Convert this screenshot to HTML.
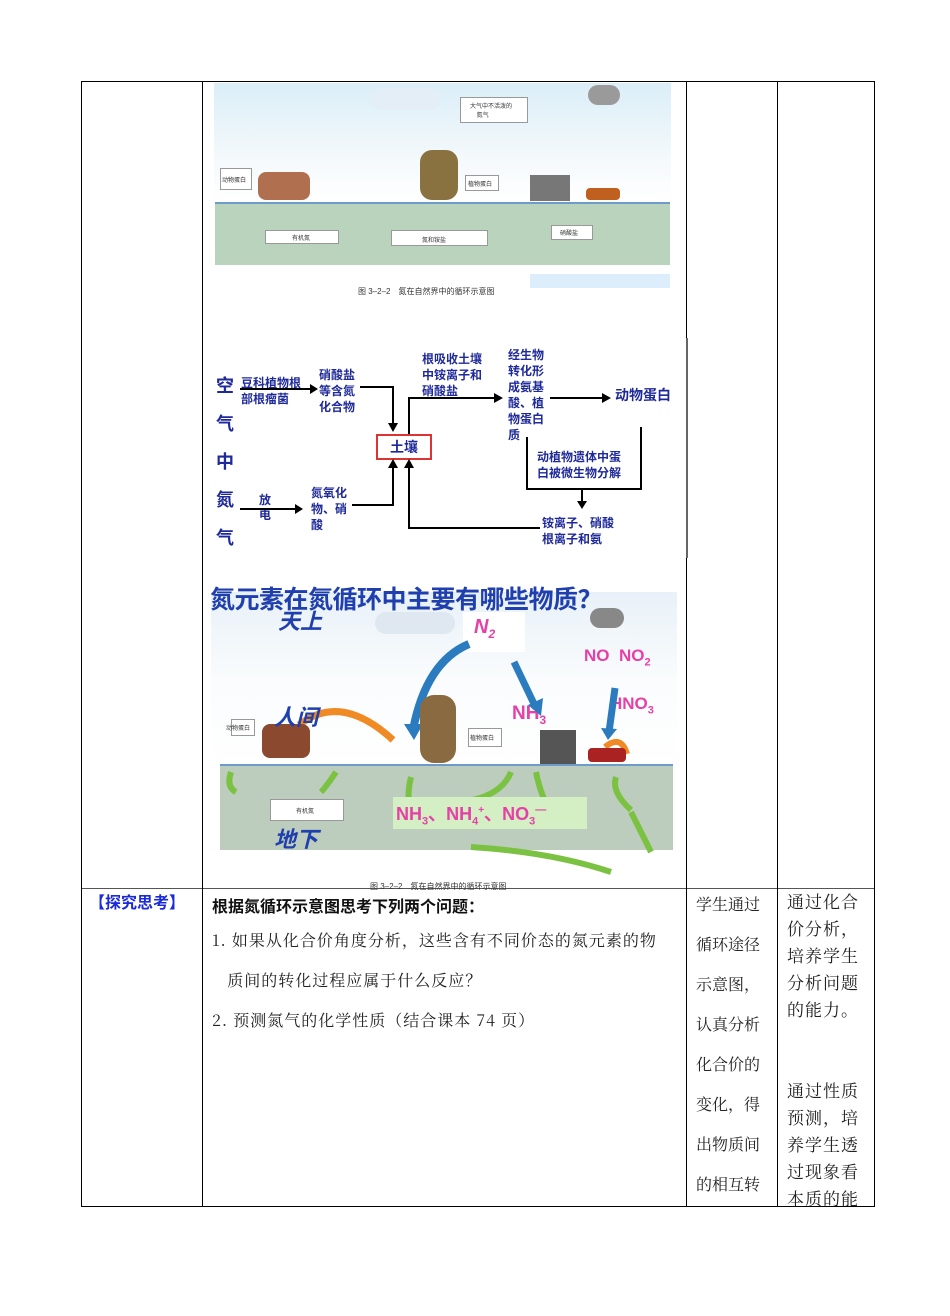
<!DOCTYPE html>
<html><head><meta charset="utf-8">
<style>
body{margin:0;background:#fff;width:950px;height:1316px;position:relative;overflow:hidden;font-family:"Liberation Serif","Noto Serif CJK SC",serif}
.a{position:absolute}
.ln{position:absolute;background:#000}
.b{color:#1f2a9a;font-family:"Liberation Sans","Noto Sans CJK SC",sans-serif;font-weight:bold;font-size:12px;line-height:16px}
.s{font-family:"Liberation Sans","Noto Sans CJK SC",sans-serif;font-size:6px;color:#333;position:absolute}
.bx{position:absolute;background:#fff;border:1px solid #999}
.t{font-size:16px;line-height:40px;color:#222;font-family:"Noto Serif CJK SC",serif}
.pk{color:#e63fa8;font-family:"Liberation Sans",sans-serif;font-weight:bold;position:absolute}
</style></head><body>
<!-- table borders -->
<div class="ln" style="left:81px;top:81px;width:794px;height:1px"></div>
<div class="ln" style="left:81px;top:888px;width:794px;height:1px;background:#555"></div>
<div class="ln" style="left:81px;top:1206px;width:794px;height:1px"></div>
<div class="ln" style="left:81px;top:81px;width:1px;height:1126px"></div>
<div class="ln" style="left:202px;top:81px;width:1px;height:1126px"></div>
<div class="ln" style="left:686px;top:81px;width:1px;height:1126px"></div>
<div class="ln" style="left:777px;top:81px;width:1px;height:1126px"></div>
<div class="ln" style="left:874px;top:81px;width:1px;height:1126px"></div>

<!-- top image -->
<div class="a" style="left:214px;top:83px;width:457px;height:215px;background:linear-gradient(#dbeef8,#f4f9fb 35%,#fff 55%)"></div>
<div class="a" style="left:215px;top:203px;width:455px;height:62px;background:#b9d3bd"></div>
<div class="a" style="left:215px;top:202px;width:455px;height:2px;background:#6d9ccb"></div>
<div class="a" style="left:370px;top:88px;width:70px;height:22px;background:#e3eef6;border-radius:12px"></div>
<div class="a" style="left:588px;top:85px;width:32px;height:20px;background:#9a9a9a;border-radius:10px"></div>
<div class="bx" style="left:460px;top:97px;width:66px;height:24px"></div><div class="s" style="left:470px;top:101px">大气中不活泼的<br>&nbsp;&nbsp;&nbsp;&nbsp;氮气</div>
<div class="bx" style="left:220px;top:168px;width:30px;height:20px"></div><div class="s" style="left:222px;top:175px">动物蛋白</div>
<div class="a" style="left:258px;top:172px;width:52px;height:28px;background:#b07050;border-radius:8px"></div>
<div class="a" style="left:420px;top:150px;width:38px;height:50px;background:#8a7240;border-radius:12px"></div>
<div class="bx" style="left:465px;top:175px;width:32px;height:14px"></div><div class="s" style="left:468px;top:179px">植物蛋白</div>
<div class="a" style="left:530px;top:175px;width:40px;height:26px;background:#777"></div>
<div class="a" style="left:586px;top:188px;width:34px;height:12px;background:#c0601e;border-radius:4px"></div>
<div class="bx" style="left:265px;top:230px;width:72px;height:12px"></div><div class="s" style="left:292px;top:233px">有机氮</div>
<div class="bx" style="left:391px;top:230px;width:95px;height:14px"></div><div class="s" style="left:422px;top:235px">氮和铵盐</div>
<div class="bx" style="left:551px;top:225px;width:40px;height:13px"></div><div class="s" style="left:560px;top:228px">硝酸盐</div>
<div class="a" style="left:530px;top:274px;width:140px;height:14px;background:#dceefc"></div>
<div class="s" style="left:358px;top:286px;font-size:8px">图 3–2–2　氮在自然界中的循环示意图</div>

<!-- flow diagram -->
<div class="a" style="left:206px;top:338px;width:480px;height:220px;border-right:2px solid #666"></div>
<div class="a b" style="left:216px;top:367px;font-size:18px;line-height:38px;width:20px">空<br>气<br>中<br>氮<br>气</div>
<div class="a b" style="left:241px;top:375px">豆科植物根<br>部根瘤菌</div>
<div class="ln" style="left:240px;top:388px;width:72px;height:2px"></div><div class="a" style="left:310px;top:384px;border-left:8px solid #000;border-top:5px solid transparent;border-bottom:5px solid transparent"></div>
<div class="a b" style="left:319px;top:367px">硝酸盐<br>等含氮<br>化合物</div>
<div class="ln" style="left:360px;top:386px;width:33px;height:2px"></div>
<div class="ln" style="left:392px;top:386px;width:2px;height:38px"></div><div class="a" style="left:388px;top:423px;border-top:9px solid #000;border-left:5px solid transparent;border-right:5px solid transparent"></div>
<div class="a b" style="left:376px;top:434px;width:56px;height:26px;border:2px solid #d33;box-sizing:border-box;font-size:14px;line-height:22px;text-align:center">土壤</div>
<div class="a b" style="left:259px;top:493px;line-height:15px">放<br>电</div>
<div class="ln" style="left:240px;top:508px;width:56px;height:2px"></div><div class="a" style="left:295px;top:504px;border-left:8px solid #000;border-top:5px solid transparent;border-bottom:5px solid transparent"></div>
<div class="a b" style="left:311px;top:485px">氮氧化<br>物、硝<br>酸</div>
<div class="ln" style="left:352px;top:504px;width:42px;height:2px"></div>
<div class="ln" style="left:392px;top:468px;width:2px;height:38px"></div><div class="a" style="left:388px;top:459px;border-bottom:9px solid #000;border-left:5px solid transparent;border-right:5px solid transparent"></div>
<div class="ln" style="left:408px;top:468px;width:2px;height:60px"></div><div class="a" style="left:404px;top:459px;border-bottom:9px solid #000;border-left:5px solid transparent;border-right:5px solid transparent"></div>
<div class="ln" style="left:408px;top:527px;width:132px;height:2px"></div>
<div class="ln" style="left:408px;top:398px;width:2px;height:36px"></div>
<div class="ln" style="left:408px;top:397px;width:88px;height:2px"></div><div class="a" style="left:494px;top:393px;border-left:9px solid #000;border-top:5px solid transparent;border-bottom:5px solid transparent"></div>
<div class="a b" style="left:422px;top:351px">根吸收土壤<br>中铵离子和<br>硝酸盐</div>
<div class="a b" style="left:508px;top:347px">经生物<br>转化形<br>成氨基<br>酸、植<br>物蛋白<br>质</div>
<div class="ln" style="left:550px;top:397px;width:54px;height:2px"></div><div class="a" style="left:602px;top:393px;border-left:9px solid #000;border-top:5px solid transparent;border-bottom:5px solid transparent"></div>
<div class="a b" style="left:615px;top:387px;font-size:14px">动物蛋白</div>
<div class="ln" style="left:640px;top:427px;width:2px;height:62px"></div>
<div class="ln" style="left:526px;top:437px;width:2px;height:52px"></div>
<div class="ln" style="left:526px;top:488px;width:116px;height:2px"></div>
<div class="ln" style="left:581px;top:488px;width:2px;height:14px"></div><div class="a" style="left:577px;top:501px;border-top:8px solid #000;border-left:5px solid transparent;border-right:5px solid transparent"></div>
<div class="a b" style="left:537px;top:449px">动植物遗体中蛋<br>白被微生物分解</div>
<div class="a b" style="left:542px;top:515px">铵离子、硝酸<br>根离子和氨</div>

<!-- bottom image -->
<div class="a" style="left:211px;top:592px;width:466px;height:296px;background:linear-gradient(#e8f1f8,#fafcfd 30%,#fff 60%)"></div>
<div class="a" style="left:220px;top:765px;width:453px;height:85px;background:#bccdbd"></div>
<div class="a" style="left:220px;top:764px;width:453px;height:2px;background:#6d9ccb"></div>
<div class="a" style="left:375px;top:612px;width:80px;height:22px;background:#dfe8f0;border-radius:12px"></div>
<div class="a" style="left:590px;top:608px;width:34px;height:20px;background:#888;border-radius:10px"></div>
<div class="a" style="left:463px;top:612px;width:62px;height:40px;background:#fff"></div>
<div class="pk" style="left:474px;top:616px;font-size:20px;font-style:italic">N<sub style="font-size:12px">2</sub></div>
<div class="pk" style="left:584px;top:646px;font-size:17px">NO&nbsp; NO<sub style="font-size:11px">2</sub></div>
<div class="pk" style="left:610px;top:694px;font-size:17px">HNO<sub style="font-size:11px">3</sub></div>
<div class="pk" style="left:512px;top:703px;font-size:19px">NH<sub style="font-size:12px">3</sub></div>
<svg class="a" style="left:211px;top:592px" width="466" height="296">
<path d="M258 52 Q215 70 202 138" stroke="#2b7bbf" stroke-width="8" fill="none"/><path d="M193 132 L203 148 L212 132Z" fill="#2b7bbf"/>
<path d="M303 70 L325 116" stroke="#2b7bbf" stroke-width="7" fill="none"/><path d="M317 113 L330 124 L332 106Z" fill="#2b7bbf"/>
<path d="M404 96 L398 140" stroke="#2b7bbf" stroke-width="7" fill="none"/><path d="M390 136 L397 148 L406 137Z" fill="#2b7bbf"/>
<path d="M182 148 Q130 100 88 133" stroke="#f08a24" stroke-width="7" fill="none"/>
<path d="M416 162 Q410 142 394 155" stroke="#f08a24" stroke-width="6" fill="none"/>
<path d="M200 224 Q195 205 200 185 M300 180 Q290 205 250 210 M325 180 Q330 205 340 220 M420 218 Q400 200 405 185 M420 220 Q430 240 440 260 M260 255 Q340 260 400 280 M20 180 Q15 195 25 200 M125 180 Q115 195 110 200" stroke="#7cc242" stroke-width="6" fill="none"/>
</svg>
<div class="a" style="left:393px;top:797px;width:194px;height:32px;background:#d4efc3"></div>
<div class="pk" style="left:396px;top:800px;font-size:18px">NH<sub style="font-size:11px">3</sub>、NH<sub style="font-size:11px">4</sub><sup style="font-size:10px">+</sup>、NO<sub style="font-size:11px">3</sub><sup style="font-size:11px">—</sup></div>
<div class="bx" style="left:231px;top:719px;width:22px;height:15px"></div><div class="s" style="left:226px;top:723px">动物蛋白</div>
<div class="a" style="left:262px;top:724px;width:48px;height:34px;background:#8b4a30;border-radius:8px"></div>
<div class="a" style="left:420px;top:695px;width:36px;height:68px;background:#8a6a40;border-radius:14px"></div>
<div class="bx" style="left:468px;top:728px;width:32px;height:17px"></div><div class="s" style="left:470px;top:733px">植物蛋白</div>
<div class="a" style="left:540px;top:730px;width:36px;height:34px;background:#555"></div>
<div class="a" style="left:588px;top:748px;width:38px;height:14px;background:#a22;border-radius:4px"></div>
<div class="bx" style="left:270px;top:799px;width:72px;height:20px"></div><div class="s" style="left:296px;top:806px">有机氮</div>
<div class="a" style="left:210px;top:580px;font-family:'Liberation Sans','Noto Sans CJK SC',sans-serif;font-weight:bold;font-size:25px;color:#1f3fae;white-space:nowrap;letter-spacing:-0.5px">氮元素在氮循环中主要有哪些物质？</div>
<div class="a" style="left:278px;top:604px;font-family:'Noto Sans CJK SC',sans-serif;font-weight:bold;font-style:italic;font-size:22px;color:#1f3fae">天上</div>
<div class="a" style="left:274px;top:700px;font-family:'Noto Sans CJK SC',sans-serif;font-weight:bold;font-style:italic;font-size:22px;color:#1f3fae">人间</div>
<div class="a" style="left:274px;top:822px;font-family:'Noto Sans CJK SC',sans-serif;font-weight:bold;font-style:italic;font-size:22px;color:#1f3fae">地下</div>
<div class="s" style="left:370px;top:881px;font-size:8px">图 3–2–2　氮在自然界中的循环示意图</div>

<!-- bottom row text -->
<div class="a" style="left:89px;top:889px;font-family:'Noto Sans CJK SC',sans-serif;font-weight:bold;font-size:16px;color:#1a2ad8">【探究思考】</div>
<div class="a" style="left:212px;top:893px;font-family:'Noto Sans CJK SC',sans-serif;font-weight:bold;font-size:16px;color:#111">根据氮循环示意图思考下列两个问题：</div>
<div class="a t" style="left:212px;top:920px;width:474px;letter-spacing:1px;white-space:nowrap">1. 如果从化合价角度分析，这些含有不同价态的氮元素的物<br>&nbsp;&nbsp;&nbsp;质间的转化过程应属于什么反应？<br>2. 预测氮气的化学性质（结合课本 74 页）</div>
<div class="a t" style="left:696px;top:884px;width:76px">学生通过循环途径示意图，认真分析化合价的变化，得出物质间的相互转</div>
<div class="a" style="left:787px;top:887px;width:80px;font-size:17px;line-height:27px;color:#222;font-family:'Noto Serif CJK SC',serif;letter-spacing:1px">通过化合价分析，培养学生分析问题的能力。</div>
<div class="a" style="left:787px;top:1076px;width:80px;font-size:17px;line-height:27px;color:#222;font-family:'Noto Serif CJK SC',serif;letter-spacing:1px">通过性质预测，培养学生透过现象看本质的能</div>
</body></html>
